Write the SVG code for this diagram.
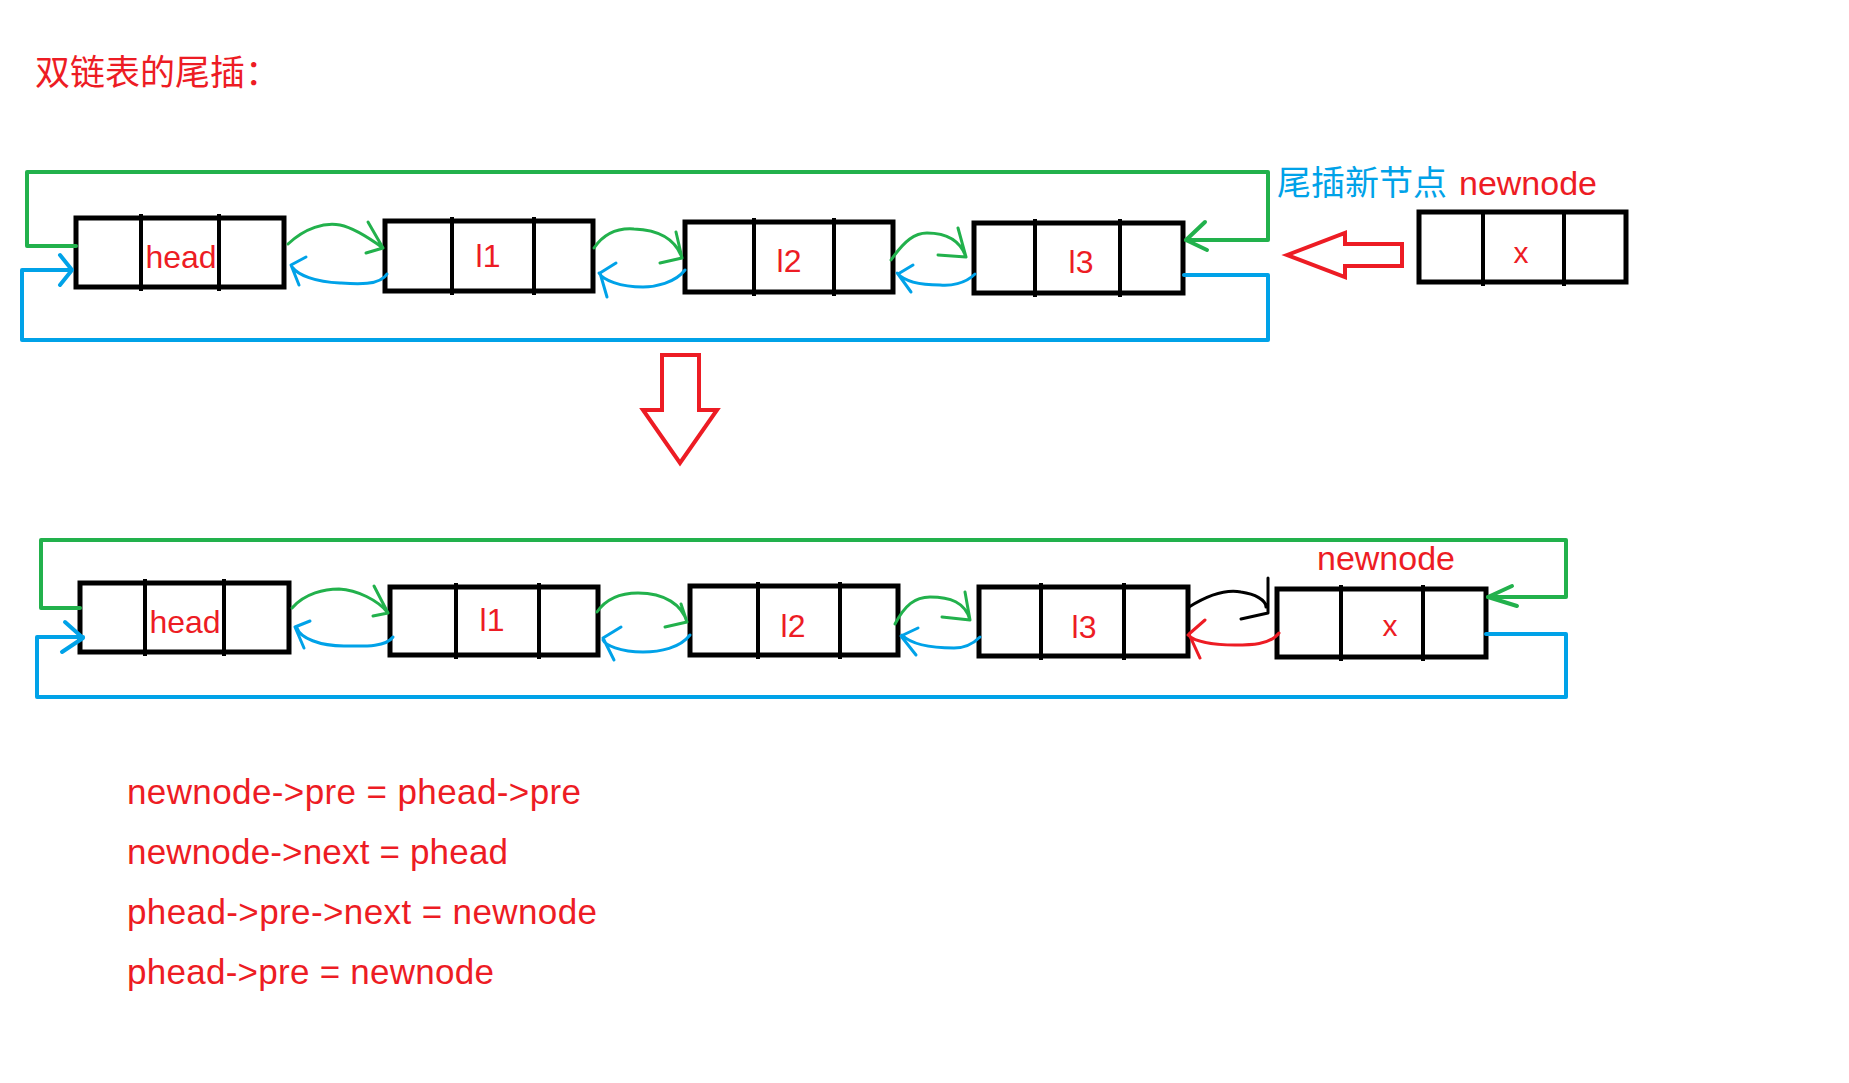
<svg xmlns="http://www.w3.org/2000/svg" width="1849" height="1083" viewBox="0 0 1849 1083">
<style>
.box{fill:none;stroke:#000;stroke-width:5}
.div{stroke:#000;stroke-width:4}
.t{font-family:"Liberation Sans","Noto Sans CJK SC",sans-serif;fill:#ED1C24}
.cn{font-family:"Noto Sans CJK SC","Liberation Sans",sans-serif}
.g{fill:none;stroke:#22B14C;stroke-width:4;stroke-linecap:round;stroke-linejoin:round}
.b{fill:none;stroke:#00A2E8;stroke-width:4;stroke-linecap:round;stroke-linejoin:round}
.gc{fill:none;stroke:#22B14C;stroke-width:3;stroke-linecap:round;stroke-linejoin:round}
.bc{fill:none;stroke:#00A2E8;stroke-width:3;stroke-linecap:round;stroke-linejoin:round}
.kc{fill:none;stroke:#000;stroke-width:3;stroke-linecap:round;stroke-linejoin:round}
.rc{fill:none;stroke:#ED1C24;stroke-width:3;stroke-linecap:round;stroke-linejoin:round}
.ra{fill:#fff;stroke:#ED1C24;stroke-width:4;stroke-linejoin:miter}
</style>
<rect width="1849" height="1083" fill="#fff"/>
<text class="cn" x="35" y="85" font-size="35" fill="#ED1C24">双链表的尾插：</text>
<text x="1277" y="195" font-size="34"><tspan class="cn" fill="#00A2E8">尾插新节点</tspan><tspan class="t" x="1459">newnode</tspan></text>

<g id="top-head"><rect class="box" x="76" y="218" width="208" height="69"/><line class="div" x1="141" y1="214" x2="141" y2="291"/><line class="div" x1="219" y1="214" x2="219" y2="291"/><text class="t" x="181" y="268" font-size="32" text-anchor="middle">head</text></g>
<g id="top-l1"><rect class="box" x="385" y="221" width="208" height="70"/><line class="div" x1="452" y1="217" x2="452" y2="295"/><line class="div" x1="534" y1="217" x2="534" y2="295"/><text class="t" x="488" y="267" font-size="32" text-anchor="middle">l1</text></g>
<g id="top-l2"><rect class="box" x="685" y="222" width="208" height="70"/><line class="div" x1="754" y1="218" x2="754" y2="296"/><line class="div" x1="834" y1="218" x2="834" y2="296"/><text class="t" x="789" y="272" font-size="32" text-anchor="middle">l2</text></g>
<g id="top-l3"><rect class="box" x="974" y="223" width="209" height="70"/><line class="div" x1="1035" y1="219" x2="1035" y2="297"/><line class="div" x1="1120" y1="219" x2="1120" y2="297"/><text class="t" x="1081" y="273" font-size="32" text-anchor="middle">l3</text></g>
<g id="top-newnode"><rect class="box" x="1419" y="212" width="207" height="70"/><line class="div" x1="1483" y1="210" x2="1483" y2="286"/><line class="div" x1="1564" y1="210" x2="1564" y2="286"/><text class="t" x="1521" y="263" font-size="30" text-anchor="middle">x</text></g>

<g id="bot-head"><rect class="box" x="80" y="583" width="209" height="69"/><line class="div" x1="145" y1="579" x2="145" y2="656"/><line class="div" x1="224" y1="579" x2="224" y2="656"/><text class="t" x="185" y="633" font-size="32" text-anchor="middle">head</text></g>
<g id="bot-l1"><rect class="box" x="390" y="587" width="208" height="68"/><line class="div" x1="456" y1="583" x2="456" y2="659"/><line class="div" x1="539" y1="583" x2="539" y2="659"/><text class="t" x="492" y="631" font-size="32" text-anchor="middle">l1</text></g>
<g id="bot-l2"><rect class="box" x="690" y="586" width="208" height="69"/><line class="div" x1="758" y1="582" x2="758" y2="659"/><line class="div" x1="840" y1="582" x2="840" y2="659"/><text class="t" x="793" y="637" font-size="32" text-anchor="middle">l2</text></g>
<g id="bot-l3"><rect class="box" x="979" y="587" width="209" height="69"/><line class="div" x1="1041" y1="583" x2="1041" y2="660"/><line class="div" x1="1124" y1="583" x2="1124" y2="660"/><text class="t" x="1084" y="638" font-size="32" text-anchor="middle">l3</text></g>
<g id="bot-newnode"><rect class="box" x="1277" y="589" width="209" height="68"/><line class="div" x1="1341" y1="585" x2="1341" y2="661"/><line class="div" x1="1423" y1="585" x2="1423" y2="661"/><text class="t" x="1390" y="636" font-size="30" text-anchor="middle">x</text><text class="t" x="1386" y="570" font-size="34" text-anchor="middle">newnode</text></g>

<g id="connectors">
<path class="g" d="M76,246 H27 V172 H1268 V240 H1186"/>
<polyline class="g" points="1205,222 1186,240 1207,250"/>
<path class="b" d="M1184,275 H1268 V340 H22 V270 H71"/>
<polyline class="b" points="60,255 72,270 60,285"/>
<path class="gc" d="M288,244 C305,228 325,222 340,225 C355,228 372,240 383,248 M368,222 L383,248 L366,253"/>
<path class="bc" d="M387,274 C380,286 355,284 340,283 C315,282 298,275 292,267 M306,257 L291,265 L299,285"/>
<path class="gc" d="M594,248 C605,232 620,228 634,229 C660,230 676,240 682,258 M676,232 L682,258 L660,263"/>
<path class="bc" d="M685,270 C675,283 655,287 643,287 C620,287 603,280 599,273 M616,263 L600,273 L607,297"/>
<path class="gc" d="M891,260 C905,240 915,233 927,233 C945,233 960,240 966,257 M958,228 L966,257 L938,255"/>
<path class="bc" d="M975,274 C965,284 950,286 940,285 C920,285 905,282 897,273 M913,265 L898,274 L911,292"/>
<polygon class="ra" points="1287,255 1345,233 1345,244 1402,244 1402,266 1345,266 1345,277"/>
<polygon class="ra" points="662,355 699,355 699,410 717,410 680,463 643,410 662,410"/>
<path class="g" d="M80,608 H41 V540 H1566 V597 H1488"/>
<polyline class="g" points="1512,586 1488,597 1517,606"/>
<path class="b" d="M1486,634 H1566 V697 H37 V637 H83"/>
<polyline class="b" points="65,622 83,638 62,652"/>
<path class="gc" d="M292,608 C305,593 325,589 339,589 C357,590 378,600 388,613 M374,586 L388,613 L373,616"/>
<path class="bc" d="M393,637 C385,648 360,646 344,646 C320,646 300,638 297,628 M310,621 L295,627 L304,648"/>
<path class="gc" d="M597,612 C608,596 625,593 638,593 C665,593 682,605 687,622 M681,604 L687,622 L665,627"/>
<path class="bc" d="M690,635 C680,648 660,652 643,652 C620,652 605,645 603,640 M621,627 L603,638 L614,660"/>
<path class="gc" d="M895,624 C905,605 915,597 930,597 C950,597 965,602 970,620 M965,592 L970,620 L942,617"/>
<path class="bc" d="M980,637 C972,645 962,648 954,648 C935,648 912,645 902,635 M918,628 L901,636 L916,655"/>
<path class="kc" d="M1189,607 C1205,597 1225,589 1241,592 C1255,594 1266,600 1266,607 M1268,578 L1268,613 L1241,619"/>
<path class="rc" d="M1279,633 C1270,645 1250,645 1235,645 C1215,645 1195,642 1188,635 M1205,620 L1189,634 L1200,658"/>
</g>

<g id="code" class="t" font-size="35">
<text x="127" y="804" textLength="454" lengthAdjust="spacing">newnode-&gt;pre = phead-&gt;pre</text>
<text x="127" y="864" textLength="381" lengthAdjust="spacing">newnode-&gt;next = phead</text>
<text x="127" y="924" textLength="470" lengthAdjust="spacing">phead-&gt;pre-&gt;next = newnode</text>
<text x="127" y="984" textLength="367" lengthAdjust="spacing">phead-&gt;pre = newnode</text>
</g>
</svg>
